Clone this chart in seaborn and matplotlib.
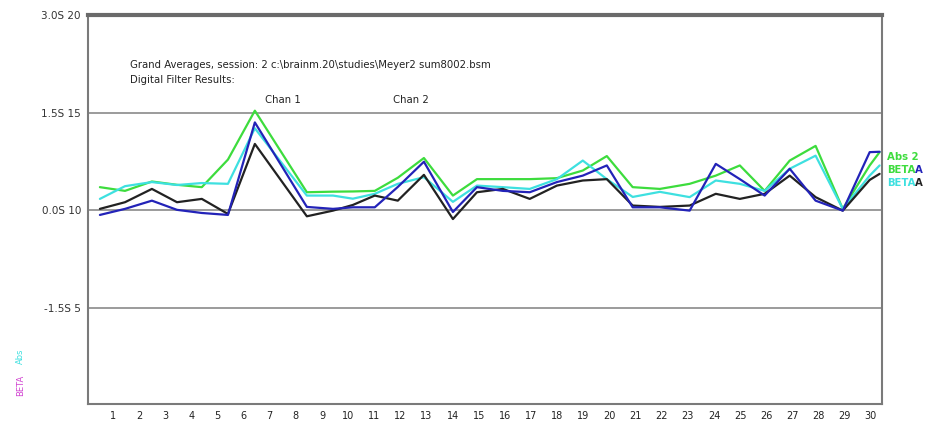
import pandas as pd
import numpy as np
import matplotlib
matplotlib.use("Agg")
import matplotlib.pyplot as plt
import seaborn as sns

# =====================================
# DATA
# =====================================

# sample positions along the epoch axis
epoch_x = [0.50, 1.46, 2.49, 3.45, 4.40, 5.40, 6.43, 8.42, 9.42, 10.18,
           11.02, 11.90, 12.90, 14.01, 14.93, 15.92, 16.95, 17.99, 18.98, 19.90,
           20.89, 21.93, 23.07, 24.07, 24.99, 25.94, 26.90, 27.89, 28.93, 29.96,
           30.34]

abs2_green = [11.19, 11.00, 11.48, 11.31, 11.19, 12.60, 15.10, 10.93, 10.96, 10.97,
              11.00, 11.67, 12.68, 10.76, 11.60, 11.60, 11.60, 11.65, 12.04, 12.78,
              11.19, 11.10, 11.36, 11.78, 12.30, 11.00, 12.55, 13.30, 10.08, 12.30,
              12.98]

beta_cyan = [10.59, 11.24, 11.45, 11.30, 11.40, 11.36, 14.20, 10.76, 10.76, 10.60,
             10.85, 11.36, 11.70, 10.44, 11.27, 11.19, 11.10, 11.60, 12.55, 11.60,
             10.69, 10.95, 10.68, 11.53, 11.36, 11.00, 12.13, 12.80, 10.08, 11.78,
             12.30]

beta_black = [10.08, 10.42, 11.10, 10.42, 10.59, 9.82, 13.40, 9.70, 9.99, 10.28,
              10.76, 10.50, 11.82, 9.56, 10.93, 11.10, 10.59, 11.27, 11.53, 11.60,
              10.25, 10.18, 10.25, 10.85, 10.59, 10.85, 11.78, 10.68, 9.99, 11.56,
              11.87]

beta_blue = [9.77, 10.08, 10.50, 10.03, 9.87, 9.77, 14.50, 10.18, 10.08, 10.16,
             10.16, 11.20, 12.49, 9.92, 11.19, 11.00, 10.93, 11.45, 11.78, 12.30,
             10.16, 10.16, 9.99, 12.38, 11.60, 10.76, 12.13, 10.50, 9.99, 12.98,
             13.00]

series_names = ["Abs 2", "BETA cyan", "BETA black", "BETA blue"]
series_colors = ["#3ddc3d", "#3ee0e0", "#222222", "#2323b8"]

x_ticks = list(range(1, 31))
y_ticks = [5, 10, 15, 20]
y_tick_labels = ["-1.5S 5", "0.0S 10", "1.5S 15", "3.0S 20"]

header_1 = "Grand Averages, session: 2 c:\\brainm.20\\studies\\Meyer2 sum8002.bsm"
header_2 = "Digital Filter Results:"

# =====================================
# BUILD TABLE
# =====================================

frames = []
for name, vals in zip(series_names,
                      [abs2_green, beta_cyan, beta_black, beta_blue]):
    frames.append(pd.DataFrame({"epoch": epoch_x, "value": vals, "series": name}))
df = pd.concat(frames, ignore_index=True)

# =====================================
# PLOT
# =====================================

sns.set_style("white")
plt.rcParams["font.family"] = ["DejaVu Sans"]

fig = plt.figure(figsize=(9.35, 4.24), dpi=100)
ax = fig.add_axes([0.094, 0.047, 0.849, 0.918])

for y in [5, 10, 15]:
    ax.axhline(y, color="#8a8a8a", lw=1.2, zorder=1)

sns.lineplot(data=df, x="epoch", y="value", hue="series",
             hue_order=series_names, palette=series_colors,
             estimator=None, sort=False, linewidth=1.6, legend=False,
             ax=ax, zorder=3)

ax.set_xlim(0.04, 30.42)
ax.set_ylim(0.1, 20)
ax.set_xticks(x_ticks)
ax.set_xticklabels([str(t) for t in x_ticks], fontsize=7, color="#222222")
ax.set_yticks(y_ticks)
ax.set_yticklabels(y_tick_labels, fontsize=7.5, color="#333333")
ax.tick_params(axis="x", direction="inout", length=8, width=1, color="#555555", pad=1)
ax.tick_params(axis="y", direction="out", length=4, width=1, color="#777777", pad=1)
ax.set_xlabel("")
ax.set_ylabel("")

for side in ["left", "right", "bottom"]:
    ax.spines[side].set_color("#7a7a7a")
    ax.spines[side].set_linewidth(1.5)
    ax.spines[side].set_visible(True)
ax.spines["top"].set_color("#6a6a6a")
ax.spines["top"].set_linewidth(3.0)
ax.spines["top"].set_visible(True)

# header texts
ax.text(0.053, 0.872, header_1, transform=ax.transAxes, fontsize=7.3,
        color="#222222", va="center", ha="left")
ax.text(0.053, 0.833, header_2, transform=ax.transAxes, fontsize=7.3,
        color="#222222", va="center", ha="left")
ax.text(0.246, 0.782, "Chan 1", transform=ax.transAxes, fontsize=7.3,
        color="#222222", va="center", ha="center")
ax.text(0.407, 0.782, "Chan 2", transform=ax.transAxes, fontsize=7.3,
        color="#222222", va="center", ha="center")

# right hand labels
fig.text(0.949, 0.630, "Abs 2", fontsize=7.3, color="#3ddc3d",
         fontweight="bold", va="center")
fig.text(0.949, 0.599, "BETA", fontsize=7.3, color="#3ddc3d",
         fontweight="bold", va="center")
fig.text(0.979, 0.599, "A", fontsize=7.3, color="#2323b8",
         fontweight="bold", va="center")
fig.text(0.949, 0.568, "BETA", fontsize=7.3, color="#3ee0e0",
         fontweight="bold", va="center")
fig.text(0.979, 0.568, "A", fontsize=7.3, color="#222222",
         fontweight="bold", va="center")

# small rotated marks at lower left
fig.text(0.022, 0.16, "Abs", fontsize=6, color="#3ee0e0", rotation=90,
         va="center", ha="center")
fig.text(0.022, 0.09, "BETA", fontsize=6, color="#d040d0", rotation=90,
         va="center", ha="center")

fig.savefig("out.png", dpi=100)
